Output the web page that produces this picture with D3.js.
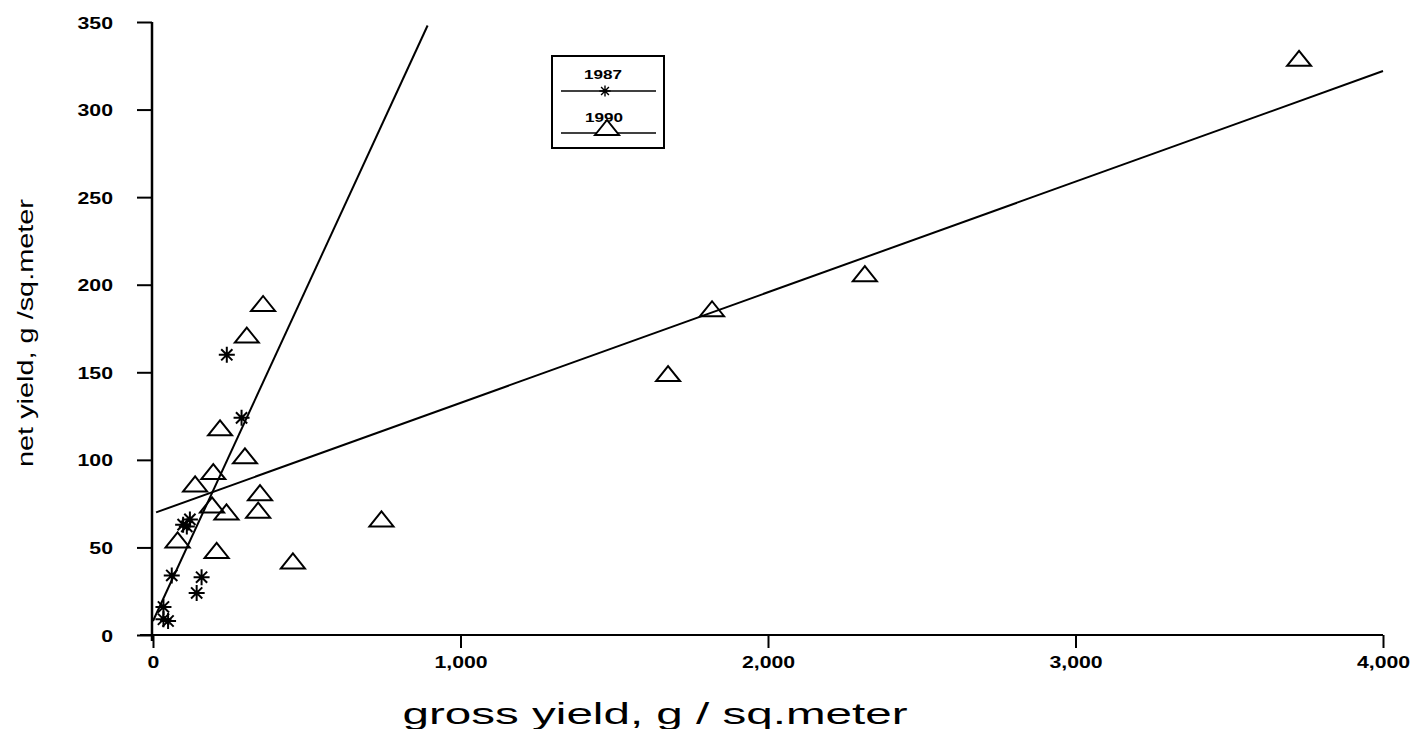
<!DOCTYPE html>
<html>
<head>
<meta charset="utf-8">
<script src="https://cdn.jsdelivr.net/npm/d3@7"></script>
<style>
  html, body { margin: 0; padding: 0; background: #fff; }
  svg { display: block; }
  text { font-family: "Liberation Sans", Arial, sans-serif; fill: #000; }
</style>
</head>
<body>
<svg id="chart" width="1428" height="729"></svg>
<script>
// ---- data ----
const xTicks = [0, 1000, 2000, 3000, 4000];
const xTickLabels = ["0", "1,000", "2,000", "3,000", "4,000"];
const yTicks = [0, 50, 100, 150, 200, 250, 300, 350];
const yTickLabels = ["0", "50", "100", "150", "200", "250", "300", "350"];

// 1990 series (triangles): gross yield, net yield
const gross1990 = [3727, 2315, 1818, 1675, 743, 455, 358, 305, 218, 299, 196, 137, 348, 342, 239, 192, 207, 80];
const net1990   = [ 329,  206,  186,  149,  66,  42, 189, 171, 118, 102,  93,  86,  81,  71,  70,  74,  48, 54];

// 1987 series (asterisks)
const gross1987 = [240, 288, 98, 120, 61, 158, 142, 34, 34, 49, 110];
const net1987   = [160, 124, 63,  66, 34,  33,  24, 16,  9,  8,  62];

// fitted lines (end points)
const fit1987X = [0, 893];
const fit1987Y = [8, 348];
const fit1990X = [10, 4000];
const fit1990Y = [70, 322];

const legendLabels = ["1987", "1990"];
const xTitle = "gross yield, g / sq.meter";
const yTitle = "net yield, g /sq.meter";

// ---- drawing ----
const svg = d3.select("#chart");
const x = d3.scaleLinear().domain([0, 4000]).range([153, 1383]);
const y = d3.scaleLinear().domain([0, 350]).range([635, 22]);

// stretch text horizontally like the reference
function stretch(sel, factor) {
  sel.each(function () {
    const len = this.getComputedTextLength();
    d3.select(this).attr("textLength", len * factor).attr("lengthAdjust", "spacingAndGlyphs");
  });
}

// Y axis
const yAxis = d3.axisLeft(y).tickValues(yTicks).tickFormat((d, i) => yTickLabels[i])
  .tickSize(15).tickSizeOuter(0).tickPadding(24);
const gy = svg.append("g").attr("transform", "translate(152,0)").call(yAxis);
gy.select(".domain").remove();
gy.selectAll(".tick line").attr("stroke", "#000").attr("stroke-width", 2);
gy.selectAll(".tick text").attr("font-size", 17).attr("font-weight", "bold")
  .attr("font-family", "Liberation Sans, Arial, sans-serif").attr("dy", "0.36em");
stretch(gy.selectAll(".tick text"), 1.25);
svg.append("line").attr("x1", 152).attr("x2", 152).attr("y1", y(350)).attr("y2", y(0) + 6)
  .attr("stroke", "#000").attr("stroke-width", 2.5);

// X axis
const xAxis = d3.axisBottom(x).tickValues(xTicks).tickFormat((d, i) => xTickLabels[i])
  .tickSize(13).tickSizeOuter(0).tickPadding(8);
const gx = svg.append("g").attr("transform", "translate(0,635)").call(xAxis);
gx.select(".domain").remove();
gx.selectAll(".tick line").attr("stroke", "#000").attr("stroke-width", 2);
gx.selectAll(".tick text").attr("font-size", 17).attr("font-weight", "bold")
  .attr("font-family", "Liberation Sans, Arial, sans-serif");
stretch(gx.selectAll(".tick text"), 1.25);
svg.append("line").attr("x1", 140).attr("x2", x(4000)).attr("y1", y(0)).attr("y2", y(0))
  .attr("stroke", "#000").attr("stroke-width", 2);

// axis titles
const xt = svg.append("text").attr("x", 655).attr("y", 724).attr("text-anchor", "middle")
  .attr("font-size", 29).text(xTitle);
xt.attr("textLength", 505).attr("lengthAdjust", "spacingAndGlyphs");
const yt = svg.append("text").attr("transform", "translate(33,333) rotate(-90)")
  .attr("text-anchor", "middle").attr("font-size", 22).text(yTitle);
yt.attr("textLength", 268).attr("lengthAdjust", "spacingAndGlyphs");

// fitted lines
const line = d3.line().x(d => x(d[0])).y(d => y(d[1]));
svg.append("path").datum(d3.zip(fit1987X, fit1987Y)).attr("d", line)
  .attr("fill", "none").attr("stroke", "#000").attr("stroke-width", 2);
svg.append("path").datum(d3.zip(fit1990X, fit1990Y)).attr("d", line)
  .attr("fill", "none").attr("stroke", "#000").attr("stroke-width", 2);

// marker shapes
const triPath = "M-12,7 L0,-8 L12,7 Z";
function asterisk(g) {
  const r = 8;
  g.append("path")
    .attr("d", `M0,${-r} L0,${r} M${-r},0 L${r},0 M${-r*0.7},${-r*0.7} L${r*0.7},${r*0.7} M${-r*0.7},${r*0.7} L${r*0.7},${-r*0.7}`)
    .attr("stroke", "#000").attr("stroke-width", 2).attr("fill", "none");
}

svg.append("g").selectAll("path").data(d3.zip(gross1990, net1990)).join("path")
  .attr("transform", d => `translate(${x(d[0])},${y(d[1])})`)
  .attr("d", triPath).attr("fill", "none").attr("stroke", "#000").attr("stroke-width", 2);

svg.append("g").selectAll("g").data(d3.zip(gross1987, net1987)).join("g")
  .attr("transform", d => `translate(${x(d[0])},${y(d[1])})`)
  .each(function () { asterisk(d3.select(this)); });

// legend
const lg = svg.append("g");
lg.append("rect").attr("x", 552).attr("y", 56).attr("width", 112).attr("height", 92)
  .attr("fill", "none").attr("stroke", "#000").attr("stroke-width", 2);
lg.append("text").attr("x", 603).attr("y", 79).attr("text-anchor", "middle")
  .attr("font-size", 13).attr("font-weight", "bold").text(legendLabels[0])
  .attr("textLength", 38).attr("lengthAdjust", "spacingAndGlyphs");
lg.append("line").attr("x1", 561).attr("x2", 656).attr("y1", 91).attr("y2", 91)
  .attr("stroke", "#000").attr("stroke-width", 1.5);
asterisk(lg.append("g").attr("transform", "translate(605,91) scale(0.7)"));
lg.append("text").attr("x", 604).attr("y", 122).attr("text-anchor", "middle")
  .attr("font-size", 13).attr("font-weight", "bold").text(legendLabels[1])
  .attr("textLength", 38).attr("lengthAdjust", "spacingAndGlyphs");
lg.append("line").attr("x1", 561).attr("x2", 656).attr("y1", 133).attr("y2", 133)
  .attr("stroke", "#000").attr("stroke-width", 1.5);
lg.append("path").attr("transform", "translate(607,128)").attr("d", triPath)
  .attr("fill", "#fff").attr("stroke", "#000").attr("stroke-width", 2);
</script>
</body>
</html>
